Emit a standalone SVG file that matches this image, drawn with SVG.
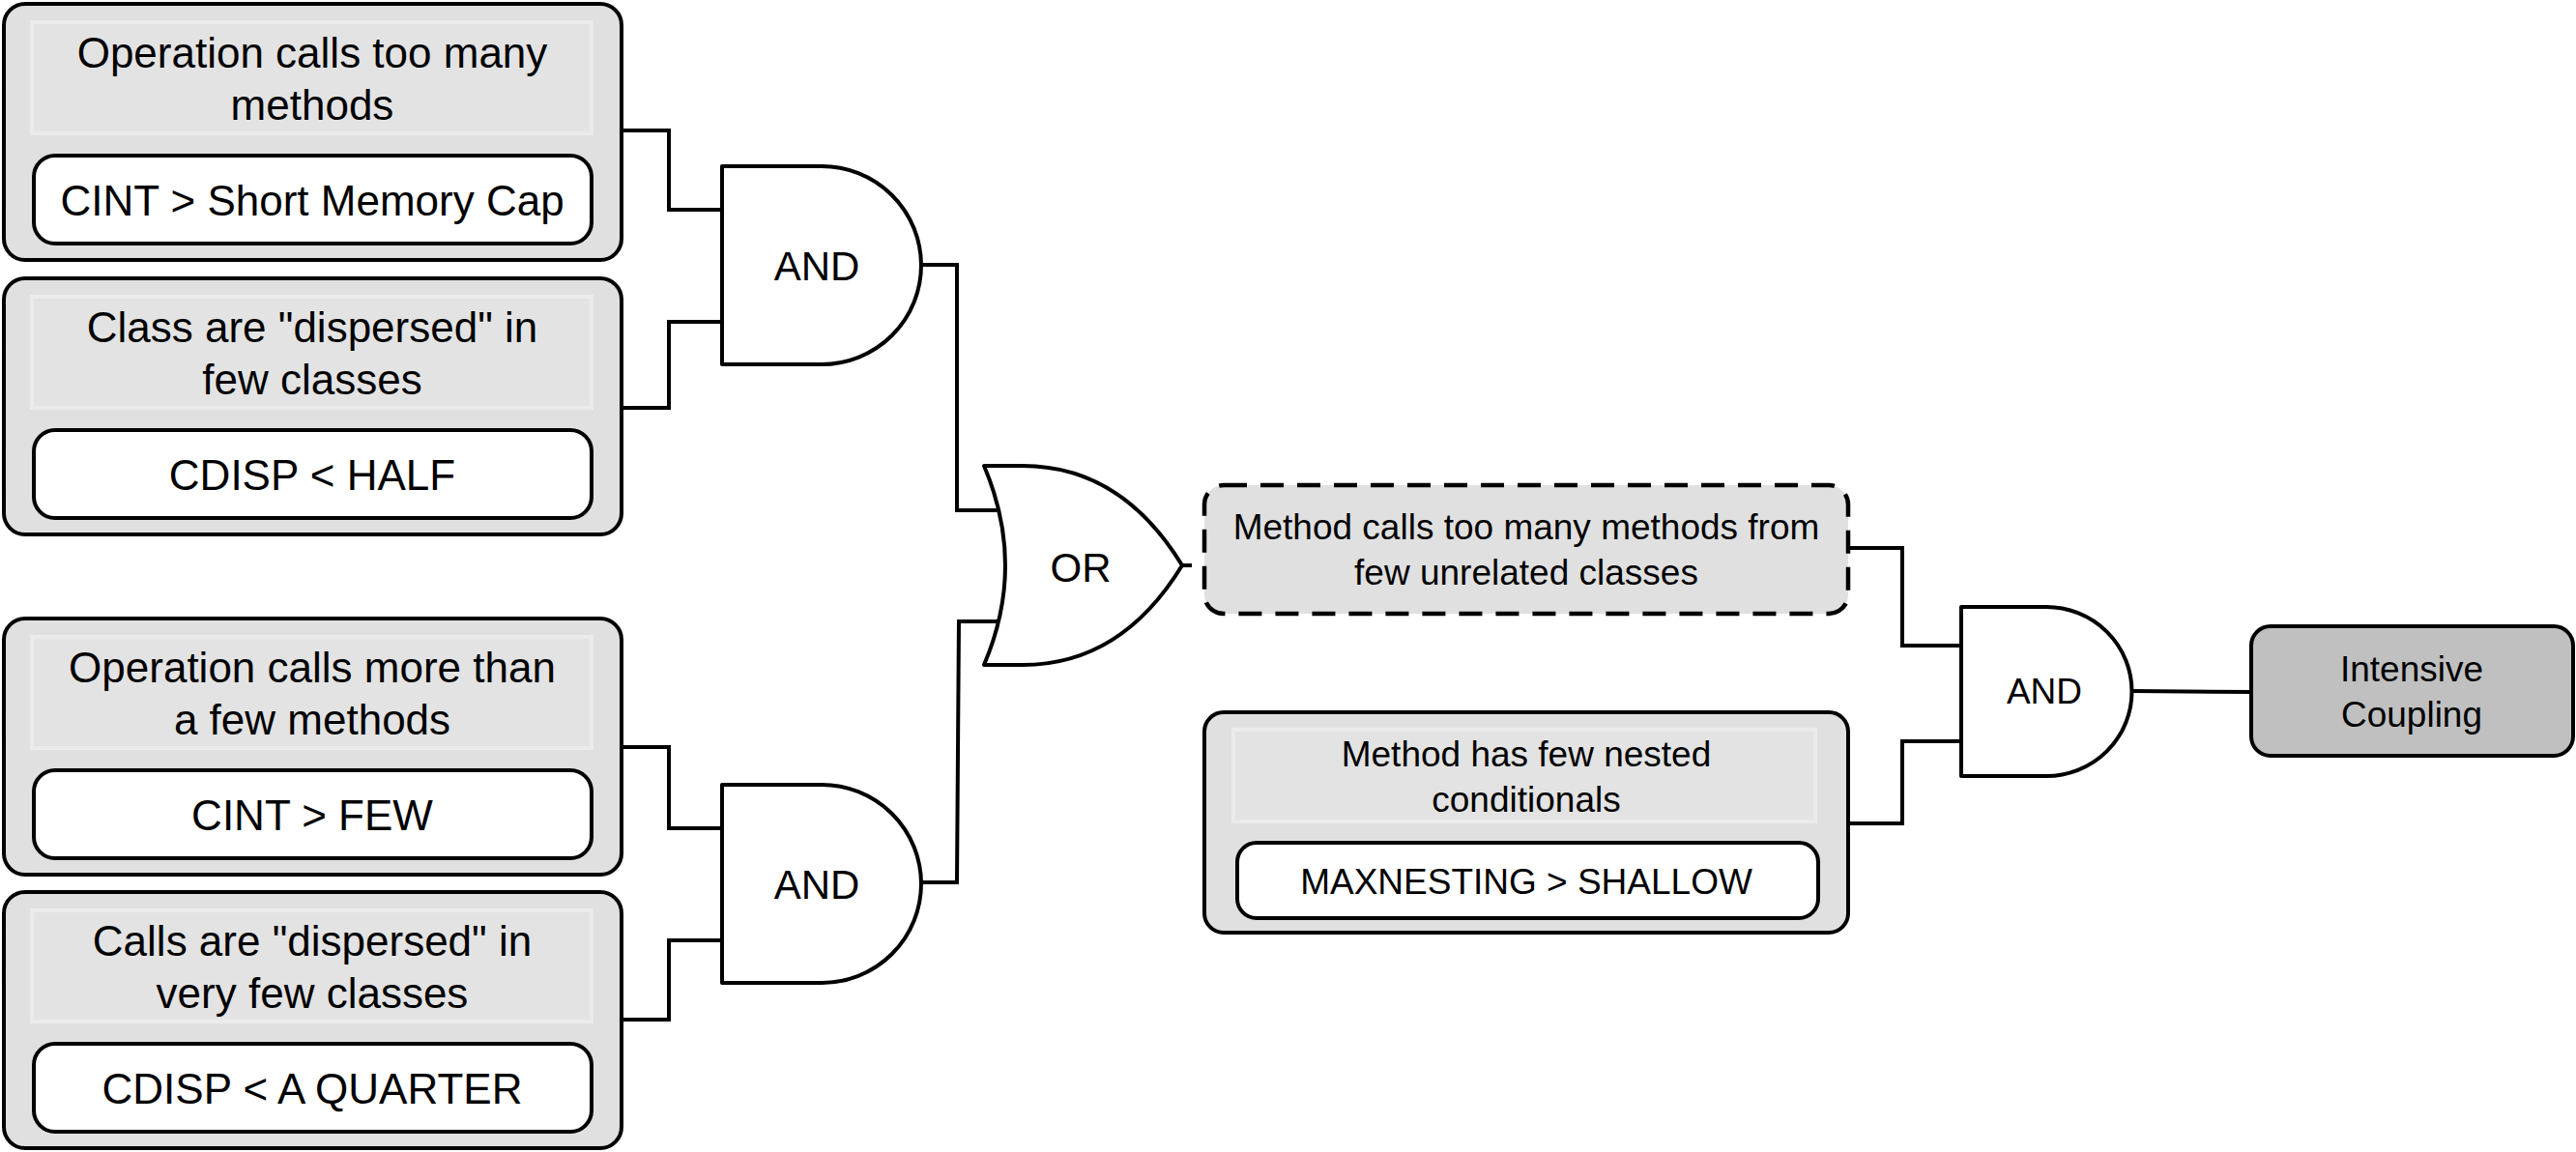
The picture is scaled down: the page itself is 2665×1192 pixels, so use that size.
<svg xmlns="http://www.w3.org/2000/svg" width="2665" height="1192" viewBox="0 0 2665 1192">
  <style>
    .outer { fill: #e0e0e0; stroke: #000; stroke-width: 4; }
    .title { fill: #e3e3e3; stroke: #ebebeb; stroke-width: 4; }
    .metric { fill: #fff; stroke: #000; stroke-width: 4; }
    .dashed { fill: #e0e0e0; stroke: #000; stroke-width: 4.5; stroke-dasharray: 24 14; }
    .result { fill: #c0c0c0; stroke: #000; stroke-width: 4; }
    .gate { fill: #fff; stroke: #000; stroke-width: 4; stroke-linejoin: round; }
    .wire { fill: none; stroke: #000; stroke-width: 4; }
    text { font-family: "Liberation Sans", Arial, Helvetica, sans-serif; fill: #000; text-anchor: middle; }
    .big { font-size: 44px; }
    .gl { font-size: 42px; }
    .small { font-size: 37px; }
  </style>
  <rect width="2665" height="1192" fill="#fff"/>

  <!-- wires between conditions and gates -->
  <g id="connectors">
    <path class="wire" d="M643 135 H692 V217 H749"/>
    <path class="wire" d="M643 422 H692 V333 H749"/>
    <path class="wire" d="M643 773 H692 V857 H749"/>
    <path class="wire" d="M643 1055 H692 V973 H749"/>
    <path class="wire" d="M953 274 H990 V528 H1033"/>
    <path class="wire" d="M953 913 H990 L992 643 H1033"/>
    <path class="wire" d="M1223 585 H1233"/>
    <path class="wire" d="M1912 567 H1968 V668 H2031"/>
    <path class="wire" d="M1912 852 H1968 V767 H2031"/>
    <path class="wire" d="M2206 715 L2329 716"/>
  </g>

  <g id="cond-cint-short">
    <rect class="outer" x="4" y="4" width="639" height="265" rx="22"/>
    <rect class="title" x="33" y="23" width="579" height="115"/>
    <text class="big" x="323" y="70">Operation calls too many</text>
    <text class="big" x="323" y="124">methods</text>
    <rect class="metric" x="35" y="161" width="577" height="91" rx="22"/>
    <text class="big" x="323" y="223">CINT &gt; Short Memory Cap</text>
  </g>

  <g id="cond-cdisp-half">
    <rect class="outer" x="4" y="288" width="639" height="265" rx="22"/>
    <rect class="title" x="33" y="307" width="579" height="115"/>
    <text class="big" x="323" y="354">Class are "dispersed" in</text>
    <text class="big" x="323" y="408">few classes</text>
    <rect class="metric" x="35" y="445" width="577" height="91" rx="22"/>
    <text class="big" x="323" y="507">CDISP &lt; HALF</text>
  </g>

  <g id="cond-cint-few">
    <rect class="outer" x="4" y="640" width="639" height="265" rx="22"/>
    <rect class="title" x="33" y="659" width="579" height="115"/>
    <text class="big" x="323" y="706">Operation calls more than</text>
    <text class="big" x="323" y="760">a few methods</text>
    <rect class="metric" x="35" y="797" width="577" height="91" rx="22"/>
    <text class="big" x="323" y="859">CINT &gt; FEW</text>
  </g>

  <g id="cond-cdisp-quarter">
    <rect class="outer" x="4" y="923" width="639" height="265" rx="22"/>
    <rect class="title" x="33" y="942" width="579" height="115"/>
    <text class="big" x="323" y="989">Calls are "dispersed" in</text>
    <text class="big" x="323" y="1043">very few classes</text>
    <rect class="metric" x="35" y="1080" width="577" height="91" rx="22"/>
    <text class="big" x="323" y="1142">CDISP &lt; A QUARTER</text>
  </g>

  <g id="and-upper">
    <path class="gate" d="M747 172 H850 A103 102.5 0 0 1 850 377 H747 Z"/>
    <text class="gl" x="845" y="290">AND</text>
  </g>

  <g id="and-lower">
    <path class="gate" d="M747 812 H850 A103 102.5 0 0 1 850 1017 H747 Z"/>
    <text class="gl" x="845" y="930">AND</text>
  </g>

  <g id="or-gate">
    <path class="gate" d="M1018 482 L1058 482 Q1160 482 1223 585 Q1160 688 1058 688 L1018 688 Q1062 585 1018 482 Z"/>
    <text class="gl" x="1118" y="602">OR</text>
  </g>

  <g id="intermediate">
    <rect class="dashed" x="1246" y="502" width="666" height="133" rx="20"/>
    <text class="small" x="1579" y="558">Method calls too many methods from</text>
    <text class="small" x="1579" y="605">few unrelated classes</text>
  </g>

  <g id="cond-maxnesting">
    <rect class="outer" x="1246" y="737" width="666" height="228" rx="20"/>
    <rect class="title" x="1276" y="755" width="602" height="95"/>
    <text class="small" x="1579" y="793">Method has few nested</text>
    <text class="small" x="1579" y="840">conditionals</text>
    <rect class="metric" x="1280" y="872" width="601" height="78" rx="20"/>
    <text class="small" x="1579" y="925">MAXNESTING &gt; SHALLOW</text>
  </g>

  <g id="and-final">
    <path class="gate" d="M2029 628 H2117 A88.5 87.5 0 0 1 2117 803 H2029 Z"/>
    <text class="small" x="2115" y="728">AND</text>
  </g>

  <g id="intensive-coupling">
    <rect class="result" x="2329" y="648" width="333" height="134" rx="20"/>
    <text class="small" x="2495" y="705">Intensive</text>
    <text class="small" x="2495" y="752">Coupling</text>
  </g>
</svg>
